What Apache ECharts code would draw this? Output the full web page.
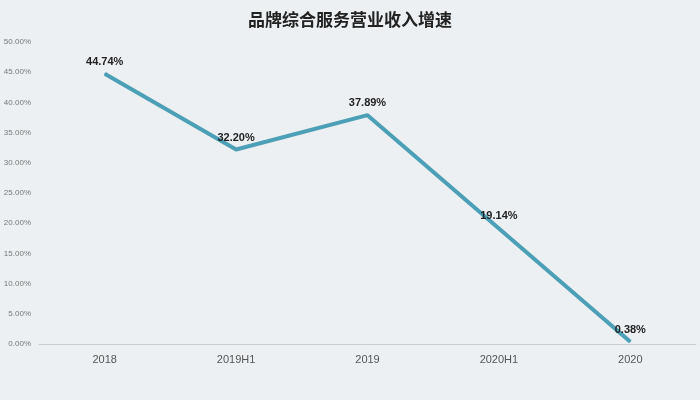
<!DOCTYPE html><html><head><meta charset="utf-8">
<script src="https://cdn.jsdelivr.net/npm/echarts@6/dist/echarts.min.js"></script>
<style>html,body{margin:0;background:#edf0f2}#c{width:700px;height:400px}</style></head><body><div id="c"></div>
<script>
const categories=['2018','2019H1','2019','2020H1','2020'];
const values=[44.74,32.20,37.89,19.14,0.38];
const title='品牌综合服务营业收入增速';
const c=echarts.init(document.getElementById('c'));
c.setOption({
backgroundColor:'#edf0f2',
title:{text:title,left:'center',top:6,textStyle:{fontSize:17,fontWeight:'bold',color:'#222',fontFamily:'Noto Sans CJK SC'}},
grid:{left:39,right:4,top:42,bottom:56},
xAxis:{type:'category',data:categories,axisTick:{show:false},axisLine:{lineStyle:{color:'#ccc'}},axisLabel:{color:'#555',fontSize:11,margin:10}},
yAxis:{type:'value',min:0,max:50,interval:5,splitLine:{show:false},axisLabel:{color:'#777',fontSize:8,formatter:v=>v.toFixed(2)+'%'}},
series:[{type:'line',data:values,symbol:'circle',symbolSize:1,showSymbol:true,lineStyle:{color:'#4b9fb6',width:4},itemStyle:{color:'#4b9fb6'},
label:{show:true,position:'top',distance:6,color:'#222',fontWeight:'bold',fontSize:11,formatter:p=>p.value.toFixed(2)+'%'}}]
});
</script></body></html>
